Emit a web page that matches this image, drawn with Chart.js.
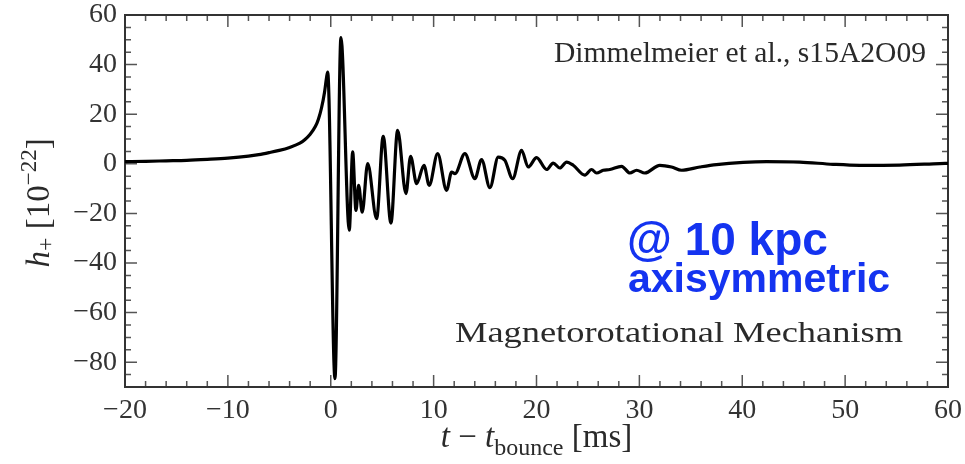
<!DOCTYPE html>
<html><head><meta charset="utf-8">
<script src="https://cdn.jsdelivr.net/npm/chart.js@4.4.1/dist/chart.umd.min.js"></script>
<style>html,body{margin:0;padding:0;background:#fff;}#wrap{width:965px;height:464px;}</style>
</head><body><div id="wrap"><canvas id="c" width="965" height="464"></canvas></div>
<script>
const timeMs = [-20,-18,-16,-14,-12,-10,-8,-7,-6,-5,-4,-3,-2.5,-2,-1.5,-1.2,-0.9,-0.6,-0.4,-0.3,
  0.41,0.99,1.8,2.13,2.45,2.71,3.06,3.59,4.46,5.1,5.85,6.5,7.31,7.76,8.35,9.06,9.57,10.39,11.26,11.75,
  12.07,13.04,14.01,14.66,15.47,16.28,16.93,17.68,18.55,19.19,20.01,20.98,21.62,22.27,22.93,23.57,24.7,25.35,25.84,26.48,
  27.13,28.27,29.08,29.73,30.53,31.99,33.13,34.1,35.88,37.5,40.09,42.36,45.6,48.83,51.43,55.3,59.2,60];
const strainH = [0.9,1.0,1.2,1.4,1.8,2.3,3.1,3.7,4.5,5.4,6.6,8.3,9.8,11.9,15.0,18.0,22.5,29.0,35.0,37.0,
  -86.6,50.9,-26.8,4.8,-18.8,-8.7,-19.5,0.1,-22.1,11.1,-23.9,13.5,-12.0,3.0,-8.0,-0.6,-8.7,4.1,-10.7,-3.3,
  -4.0,4.1,-6.0,1.7,-9.6,2.7,1.4,-6.0,5.4,-1.3,2.5,-2.3,0.3,-1.7,0.7,-0.6,-4.6,-2.3,-3.7,-2.6,
  -2.3,-1.0,-3.7,-2.6,-3.7,-0.6,-1.3,-2.6,-1.3,-0.3,0.6,0.9,0.7,-0.2,-0.6,-0.5,0.1,0.2];
const xTickValues = [-20,-10,0,10,20,30,40,50,60];
const yTickValues = [-80,-60,-40,-20,0,20,40,60];
const xMinorStep = 2;
const yMinorStep = 5;
const sourceLabel = 'Dimmelmeier et al., s15A2O09';
const mechanismLabel = 'Magnetorotational Mechanism';
const distanceLabel = '@ 10 kpc';
const geometryLabel = 'axisymmetric';

const SERIF = '"Liberation Serif", "DejaVu Serif", serif';
const SANS = '"Liberation Sans", Arial, sans-serif';
const fmt = v => (v < 0 ? '\u2212' + Math.abs(v) : String(v));

function fitText(ctx, text, x, y, size, target, align) {
  ctx.save();
  ctx.font = size + 'px ' + SERIF;
  const w = ctx.measureText(text).width;
  const s = target / w;
  ctx.textAlign = 'left';
  ctx.textBaseline = 'alphabetic';
  const x0 = align === 'right' ? x - target : x;
  ctx.translate(x0, y);
  ctx.scale(s, 1);
  ctx.fillText(text, 0, 0);
  ctx.restore();
}

function drawPieces(ctx, pieces, cx, baseY) {
  let total = 0;
  pieces.forEach(p => { ctx.font = p.font; p.w = ctx.measureText(p.t).width; total += p.w; });
  let x = cx - total / 2;
  ctx.textAlign = 'left';
  ctx.textBaseline = 'alphabetic';
  pieces.forEach(p => { ctx.font = p.font; ctx.fillText(p.t, x, baseY + (p.dy || 0)); x += p.w; });
}

const framePlugin = {
  id: 'frame',
  beforeDatasetsDraw(chart) {
    const ctx = chart.ctx, a = chart.chartArea;
    const xs = chart.scales.x, ys = chart.scales.y;
    ctx.save();
    ctx.strokeStyle = '#555';
    ctx.lineWidth = 1.5;
    ctx.beginPath();
    for (let v = xs.min; v <= xs.max + 1e-9; v += xMinorStep) {
      const px = xs.getPixelForValue(v);
      const len = xTickValues.includes(v) ? 12 : 6;
      ctx.moveTo(px, a.bottom); ctx.lineTo(px, a.bottom - len);
      ctx.moveTo(px, a.top); ctx.lineTo(px, a.top + len);
    }
    for (let v = ys.min; v <= ys.max + 1e-9; v += yMinorStep) {
      const py = ys.getPixelForValue(v);
      const len = yTickValues.includes(v) ? 12 : 6;
      ctx.moveTo(a.left, py); ctx.lineTo(a.left + len, py);
      ctx.moveTo(a.right, py); ctx.lineTo(a.right - len, py);
    }
    ctx.stroke();
    ctx.strokeStyle = '#333';
    ctx.lineWidth = 2;
    ctx.strokeRect(a.left, a.top, a.right - a.left, a.bottom - a.top);
    ctx.restore();
  },
  afterDraw(chart) {
    const ctx = chart.ctx, a = chart.chartArea;
    ctx.save();
    ctx.fillStyle = '#2a2a2a';
    // x title
    drawPieces(ctx, [
      {t: 't', font: 'italic 33px ' + SERIF},
      {t: ' \u2212 ', font: '33px ' + SERIF},
      {t: 't', font: 'italic 33px ' + SERIF},
      {t: 'bounce', font: '24px ' + SERIF, dy: 8},
      {t: ' [ms]', font: '33px ' + SERIF}
    ], (a.left + a.right) / 2, 447);
    // y title
    ctx.save();
    ctx.translate(49, 203);
    ctx.rotate(-Math.PI / 2);
    drawPieces(ctx, [
      {t: 'h', font: 'italic 33px ' + SERIF},
      {t: '+', font: '24px ' + SERIF, dy: 4},
      {t: ' [10', font: '33px ' + SERIF},
      {t: '\u221222', font: '23px ' + SERIF, dy: -13},
      {t: ']', font: '33px ' + SERIF}
    ], 0, 0);
    ctx.restore();
    // annotations
    fitText(ctx, sourceLabel, 926, 62, 29, 372, 'right');
    fitText(ctx, mechanismLabel, 455, 342, 30, 448, 'left');
    ctx.fillStyle = '#1433f0';
    ctx.textAlign = 'left';
    ctx.textBaseline = 'alphabetic';
    ctx.font = 'bold 46px ' + SANS;
    ctx.fillText(distanceLabel, 627, 255);
    ctx.font = 'bold 41px ' + SANS;
    ctx.fillText(geometryLabel, 628, 292);
    ctx.restore();
  }
};

const points = timeMs.map((t, i) => ({x: t, y: strainH[i]}));

new Chart(document.getElementById('c'), {
  type: 'line',
  data: { datasets: [{
    data: points,
    borderColor: '#000',
    borderWidth: 3.2,
    pointRadius: 0,
    fill: false,
    cubicInterpolationMode: 'monotone'
  }]},
  options: {
    responsive: false,
    animation: false,
    devicePixelRatio: 1,
    layout: { padding: { top: 15, right: 17, left: 0, bottom: 0 } },
    plugins: { legend: { display: false }, tooltip: { enabled: false } },
    scales: {
      x: {
        type: 'linear', min: -20, max: 60,
        afterBuildTicks: s => { s.ticks = xTickValues.map(v => ({value: v})); },
        afterFit: s => { s.height = 77; s.paddingLeft = 0; s.paddingRight = 0; },
        grid: { display: false, drawTicks: false },
        border: { display: false },
        ticks: { color: '#333', padding: 10, maxRotation: 0, autoSkip: false,
          font: { family: SERIF, size: 28, lineHeight: 1 }, callback: v => fmt(v) }
      },
      y: {
        type: 'linear', min: -90, max: 60,
        afterBuildTicks: s => { s.ticks = yTickValues.map(v => ({value: v})); },
        afterFit: s => { s.width = 125; s.paddingTop = 0; s.paddingBottom = 0; },
        grid: { display: false, drawTicks: false },
        border: { display: false },
        ticks: { color: '#333', padding: 8, autoSkip: false,
          font: { family: SERIF, size: 28, lineHeight: 1 }, callback: v => fmt(v) }
      }
    }
  },
  plugins: [framePlugin]
});
</script>
</body></html>
